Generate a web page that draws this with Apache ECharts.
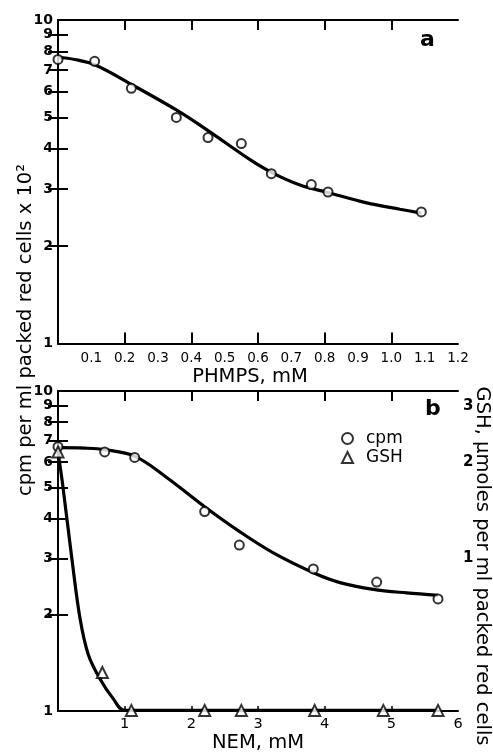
<!DOCTYPE html>
<html>
<head>
<meta charset="utf-8">
<script src="https://cdn.jsdelivr.net/npm/echarts@6/dist/echarts.min.js"></script>
<style>
html,body{margin:0;padding:0;background:#fff}
#chart{width:493px;height:754px}
</style>
</head>
<body>
<div id="chart"></div>
<script>
// panel a: PHMPS
var phmpsConc = [0, 0.11, 0.22, 0.355, 0.45, 0.55, 0.64, 0.76, 0.81, 1.09];
var phmpsCpm = [7.55, 7.45, 6.15, 5.0, 4.33, 4.15, 3.35, 3.1, 2.94, 2.55];
var phmpsFitConc = [0, 0.05, 0.112, 0.223, 0.355, 0.45, 0.576, 0.643, 0.726, 0.809, 0.926, 1.026, 1.09];
var phmpsFitCpm = [7.67, 7.55, 7.26, 6.3, 5.27, 4.55, 3.7, 3.37, 3.09, 2.93, 2.72, 2.6, 2.53];

// panel b: NEM
var nemConc = [0, 0.7, 1.15, 2.2, 2.72, 3.83, 4.78, 5.7];
var nemCpm = [6.7, 6.45, 6.2, 4.2, 3.3, 2.78, 2.53, 2.24];
var nemFitConc = [0, 0.4, 0.7, 1.15, 1.63, 2.2, 2.73, 3.23, 3.84, 4.23, 4.73, 5.23, 5.7];
var nemFitCpm = [6.65, 6.63, 6.56, 6.26, 5.37, 4.35, 3.63, 3.12, 2.7, 2.52, 2.4, 2.34, 2.3];
var gshConc = [0, 0.665, 1.1, 2.2, 2.75, 3.85, 4.88, 5.7];
var gshAmt = [2.15, 0.44, 0.335, 0.335, 0.335, 0.335, 0.335, 0.335];
var gshFitConc = [0, 0.07, 0.21, 0.33, 0.455, 0.63, 0.83, 1.0, 5.7];
var gshFitAmt = [2.15, 1.7, 0.99, 0.65, 0.5, 0.42, 0.364, 0.335, 0.335];

// ticks and labels
var phmpsLabels = [0.1, 0.2, 0.3, 0.4, 0.5, 0.6, 0.7, 0.8, 0.9, 1.0, 1.1, 1.2];
var phmpsTicks = [0.2, 0.4, 0.6, 0.8, 1.0];
var nemLabels = [1, 2, 3, 4, 5, 6];
var nemTicks = [1, 2, 3, 4, 5];
var cpmLabels = [1, 2, 3, 4, 5, 6, 7, 8, 9, 10];
var cpmTicks = [2, 3, 4, 5, 6, 7, 8, 9];
var gshLabels = [1, 2, 3];
var gshTicks = [2/3, 1, 4/3, 5/3, 2, 7/3, 8/3, 3];

var font = 'DejaVu Sans';
var lineStyle = {color: '#000', width: 2};

function pairs(xs, ys) {
	return xs.map(function (x, i) { return [x, ys[i]]; });
}

var chart = echarts.init(document.getElementById('chart'), null, {renderer: 'canvas'});

chart.setOption({
	backgroundColor: '#fff',
	animation: false,
	grid: [
		{left: 58, top: 20, width: 400, height: 323.5},
		{left: 58, top: 391, width: 400, height: 323}
	],
	legend: {
		orient: 'vertical',
		left: 336,
		top: 425,
		itemWidth: 11,
		itemHeight: 11,
		itemGap: 2,
		data: ['cpm', 'GSH'],
		textStyle: {fontFamily: font, fontSize: 17, color: '#000', padding: [0, 0, 0, 8]}
	},
	xAxis: [
		{
			type: 'value', gridIndex: 0, position: 'bottom', min: 0, max: 1.2,
			axisLine: {lineStyle: lineStyle},
			axisTick: {inside: true, length: 11, customValues: phmpsTicks, lineStyle: lineStyle},
			axisLabel: {customValues: phmpsLabels, margin: 8, fontFamily: font, fontSize: 13.5, color: '#000',
				formatter: function (v) { return v.toFixed(1); }},
			splitLine: {show: false},
			name: 'PHMPS, mM', nameLocation: 'middle', nameGap: 23,
			nameTextStyle: {fontFamily: font, fontSize: 19.5, color: '#000', verticalAlign: 'top', padding: [0, 16, 0, 0]}
		},
		{
			type: 'value', gridIndex: 0, position: 'top', min: 0, max: 1.2,
			axisLine: {lineStyle: lineStyle},
			axisTick: {inside: true, length: 10, customValues: phmpsTicks, lineStyle: lineStyle},
			axisLabel: {show: false},
			splitLine: {show: false}
		},
		{
			type: 'value', gridIndex: 1, position: 'bottom', min: 0, max: 6,
			axisLine: {lineStyle: lineStyle},
			axisTick: {inside: true, length: 5, customValues: nemTicks, lineStyle: {color: '#000', width: 1.5}},
			axisLabel: {customValues: nemLabels, margin: 6, fontFamily: font, fontSize: 14.5, color: '#000'},
			splitLine: {show: false},
			name: 'NEM, mM', nameLocation: 'middle', nameGap: 20,
			nameTextStyle: {fontFamily: font, fontSize: 19.5, color: '#000', verticalAlign: 'top'}
		},
		{
			type: 'value', gridIndex: 1, position: 'top', min: 0, max: 6,
			axisLine: {lineStyle: lineStyle},
			axisTick: {inside: true, length: 10, customValues: nemTicks, lineStyle: lineStyle},
			axisLabel: {show: false},
			splitLine: {show: false}
		}
	],
	yAxis: [
		{
			type: 'log', logBase: 10, gridIndex: 0, position: 'left', min: 1, max: 10,
			axisLine: {lineStyle: lineStyle},
			axisTick: {inside: true, length: 10, customValues: cpmTicks, lineStyle: lineStyle},
			axisLabel: {customValues: cpmLabels, margin: 5, fontFamily: font, fontSize: 14, fontWeight: 'bold',
				color: '#000', showMinLabel: true, showMaxLabel: true},
			splitLine: {show: false}
		},
		{
			type: 'log', logBase: 10, gridIndex: 0, position: 'right', min: 1, max: 10,
			axisLine: {lineStyle: lineStyle},
			axisTick: {inside: true, length: 10, customValues: cpmTicks, lineStyle: lineStyle},
			axisLabel: {show: false},
			splitLine: {show: false}
		},
		{
			type: 'log', logBase: 10, gridIndex: 1, position: 'left', min: 1, max: 10,
			axisLine: {lineStyle: lineStyle},
			axisTick: {inside: true, length: 10, customValues: cpmTicks, lineStyle: lineStyle},
			axisLabel: {customValues: cpmLabels, margin: 5, fontFamily: font, fontSize: 14, fontWeight: 'bold',
				color: '#000', showMinLabel: true, showMaxLabel: true},
			splitLine: {show: false}
		},
		{
			type: 'log', logBase: 10, gridIndex: 1, position: 'right', min: 1/3, max: 10/3,
			axisLine: {lineStyle: lineStyle},
			axisTick: {inside: true, length: 10, customValues: gshTicks, lineStyle: lineStyle},
			axisLabel: {customValues: gshLabels, margin: 5, fontFamily: font, fontSize: 15, fontWeight: 'bold', color: '#000'},
			splitLine: {show: false}
		}
	],
	graphic: [
		{type: 'text', left: 420, top: 29, style: {text: 'a', font: 'bold 22px "DejaVu Sans"', fill: '#000'}},
		{type: 'text', left: 425, top: 398, style: {text: 'b', font: 'bold 22px "DejaVu Sans"', fill: '#000'}},
		{type: 'text', x: 26, y: 330, rotation: Math.PI / 2,
			style: {text: 'cpm per ml packed red cells x 10²', font: '19.5px "DejaVu Sans"', fill: '#000',
				align: 'center', verticalAlign: 'middle'}},
		{type: 'text', x: 482, y: 566, rotation: -Math.PI / 2,
			style: {text: 'GSH, µmoles per ml packed red cells', font: '19.5px "DejaVu Sans"', fill: '#000',
				align: 'center', verticalAlign: 'middle'}}
	],
	series: [
		{
			name: 'PHMPS fit', type: 'line', xAxisIndex: 0, yAxisIndex: 0,
			data: pairs(phmpsFitConc, phmpsFitCpm), smooth: 0.35, showSymbol: false,
			lineStyle: {color: '#000', width: 3.2}
		},
		{
			name: 'PHMPS', type: 'scatter', xAxisIndex: 0, yAxisIndex: 0,
			data: pairs(phmpsConc, phmpsCpm), symbol: 'emptyCircle', symbolSize: 9,
			itemStyle: {color: '#000', borderWidth: 2}, z: 5
		},
		{
			name: 'cpm fit', type: 'line', xAxisIndex: 2, yAxisIndex: 2,
			data: pairs(nemFitConc, nemFitCpm), smooth: 0.35, showSymbol: false,
			lineStyle: {color: '#000', width: 3.2}
		},
		{
			name: 'GSH fit', type: 'line', xAxisIndex: 2, yAxisIndex: 3,
			data: pairs(gshFitConc, gshFitAmt), smooth: 0.35, showSymbol: false,
			lineStyle: {color: '#000', width: 3.2}
		},
		{
			name: 'cpm', type: 'scatter', xAxisIndex: 2, yAxisIndex: 2,
			data: pairs(nemConc, nemCpm), symbol: 'emptyCircle', symbolSize: 9,
			itemStyle: {color: '#000', borderWidth: 2}, z: 5
		},
		{
			name: 'GSH', type: 'scatter', xAxisIndex: 2, yAxisIndex: 3,
			data: pairs(gshConc, gshAmt), symbol: 'emptyTriangle', symbolSize: 11,
			itemStyle: {color: '#000', borderWidth: 2}, z: 5
		}
	]
});
</script>
</body>
</html>
